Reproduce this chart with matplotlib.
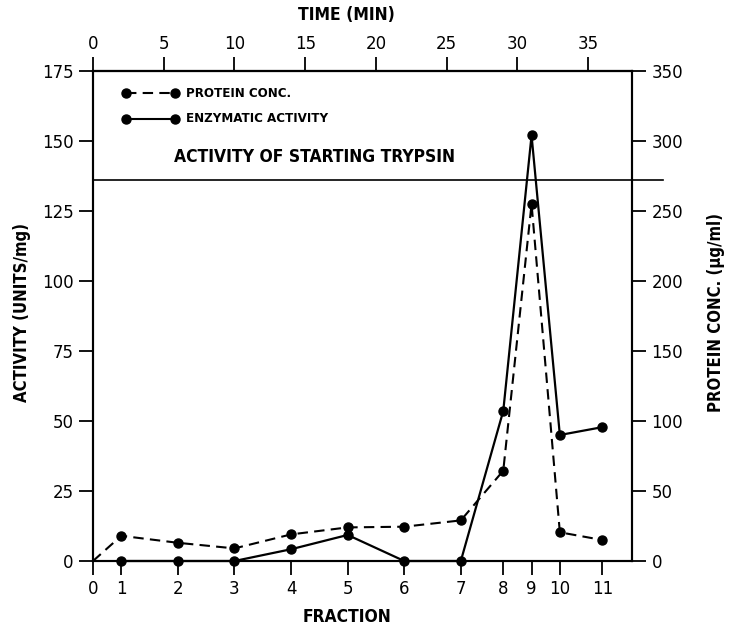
import matplotlib.pyplot as plt

# fraction number and the elution time (min) it sits at on the top axis
fractions = [0, 1, 2, 3, 4, 5, 6, 7, 8, 9, 10, 11]
times = [0, 2, 6, 10, 14, 18, 22, 26, 29, 31, 33, 36]

# protein conc. (ug/ml), right axis; fraction 0 has no marker
protein = [0, 18, 13, 9, 19, 24, 24.5, 29, 64.5, 255, 20.5, 15]
# enzymatic activity (units/mg), left axis, fractions 1..11
activity = [0, 0, 0, 4.2, 9.3, 0, 0, 53.6, 152, 45, 47.8]
start_trypsin = 136

time_ticks = [0, 5, 10, 15, 20, 25, 30, 35]
act_ticks = [0, 25, 50, 75, 100, 125, 150, 175]
prot_ticks = [0, 50, 100, 150, 200, 250, 300, 350]

lab = dict(family="DejaVu Sans", stretch="condensed", weight="bold")
num = dict(family="DejaVu Sans", size=12)

fig = plt.figure(figsize=(7.31, 6.35), dpi=100)
ax = fig.add_axes([93 / 731, 1 - 561 / 635, 539 / 731, 490 / 635])
ax2 = ax.twinx()

ax2.plot(times, protein, color="black", ls=(0, (5, 3)), lw=1.5)
ax2.plot(times[1:], protein[1:], "o", color="black", ms=6.5, clip_on=False)
ax.plot(times[1:], activity, "-o", color="black", lw=1.6, ms=6.5, clip_on=False)
ax.plot([0, 40.3], [start_trypsin, start_trypsin], color="black", lw=1.2, clip_on=False)

ax.set_xlim(0, 38.1)
ax.set_ylim(0, 175)
ax2.set_ylim(0, 350)

ax.set_xticks(times)
ax.set_xticklabels(fractions, **num)
ax.set_yticks(act_ticks)
ax.set_yticklabels(act_ticks, **num)
ax2.set_yticks(prot_ticks)
ax2.set_yticklabels(prot_ticks, **num)

top = ax.secondary_xaxis("top")
top.set_xticks(time_ticks)
top.set_xticklabels(time_ticks, **num)
top.tick_params(direction="out", length=10, width=1.3, pad=3)

ax.tick_params(axis="x", direction="out", length=10, width=1.3, pad=4)
ax.tick_params(axis="y", direction="out", length=10, width=1.3, pad=4)
ax2.tick_params(axis="y", direction="out", length=10, width=1.3, pad=4)
for a in (ax, ax2):
    for s in a.spines.values():
        s.set_linewidth(1.5)
top.spines["top"].set_linewidth(1.5)

fig.text(346 / 731, 1 - 15 / 635, "TIME (MIN)", ha="center", va="center", size=12.5, **lab)
fig.text(347 / 731, 1 - 617 / 635, "FRACTION", ha="center", va="center", size=12.5, **lab)
fig.text(22 / 731, 1 - 312 / 635, "ACTIVITY (UNITS/mg)", ha="center", va="center",
         rotation=90, size=12, **lab)
fig.text(716 / 731, 1 - 312 / 635, "PROTEIN CONC. (µg/ml)", ha="center", va="center",
         rotation=90, size=12, **lab)

ax.text(5.7, 141, "ACTIVITY OF STARTING TRYPSIN", ha="left", va="bottom", size=12.5, **lab)

# legend drawn by hand in the upper left
ax.plot([2.3, 5.8], [167, 167], color="black", ls=(0, (5, 3)), lw=1.5, marker="o", ms=6.5)
ax.plot([2.3, 5.8], [158, 158], color="black", lw=1.5, marker="o", ms=6.5)
ax.text(6.6, 167, "PROTEIN CONC.", va="center", size=9.5, **lab)
ax.text(6.6, 158, "ENZYMATIC ACTIVITY", va="center", size=9.5, **lab)

fig.savefig("out.png", dpi=100)
